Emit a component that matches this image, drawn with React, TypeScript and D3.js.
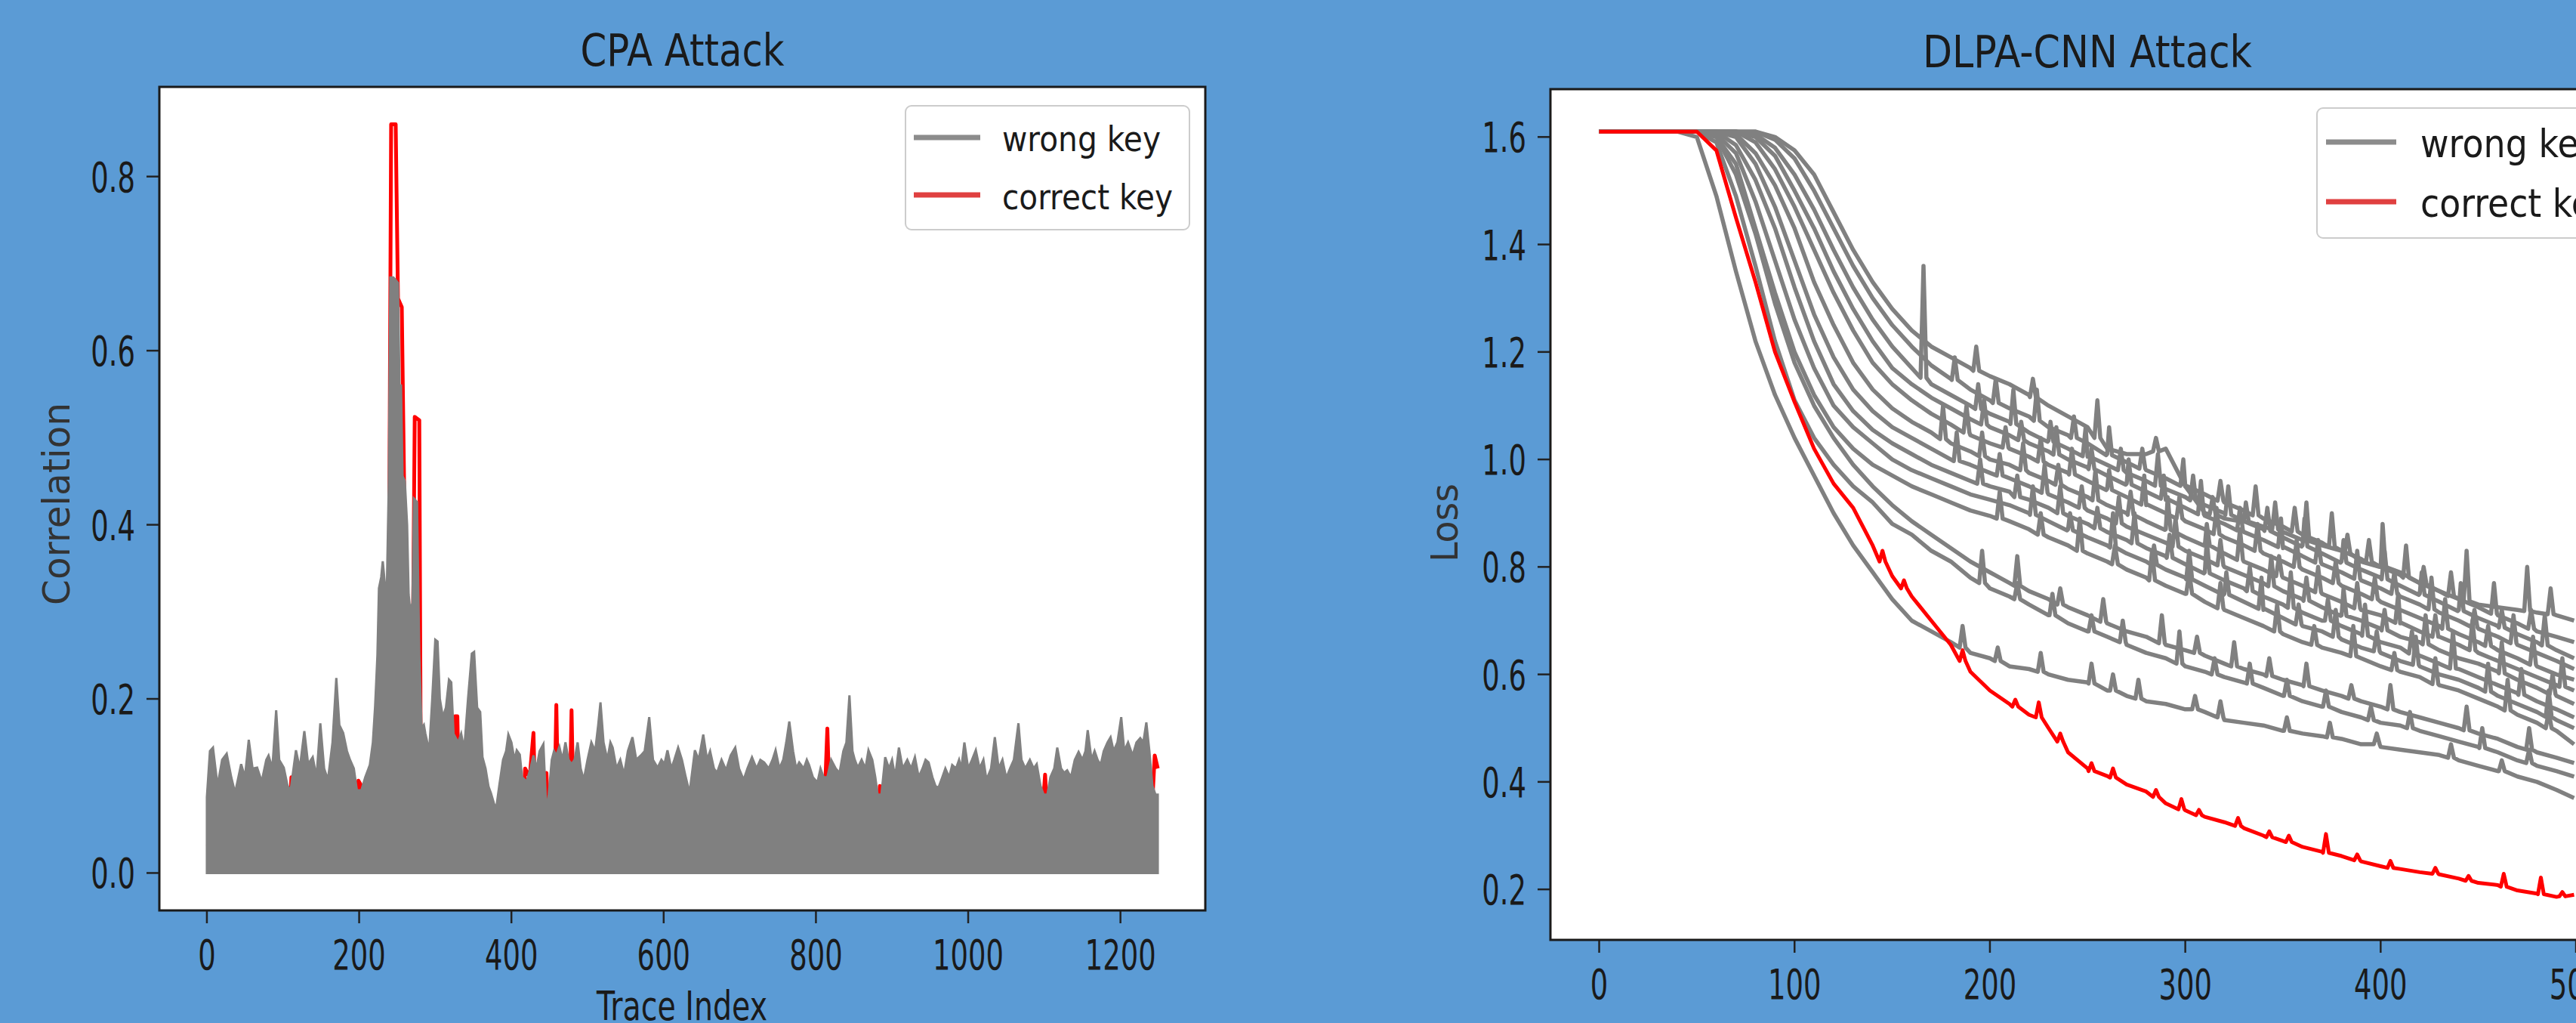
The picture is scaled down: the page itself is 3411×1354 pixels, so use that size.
import React from "react";
import * as d3 from "d3";

const W = 3411;
const H = 1354;
const BG = "#5b9bd5";
const GRAY = "#808080";
const RED = "#ff0000";
const INK = "#1a1a1a";
const FONT = "'DejaVu Sans', 'Liberation Sans', sans-serif";

// ---------- CPA attack (left) ----------
// upper edge of the wrong-key band: [trace index, correlation]
const cpaWrongTop: [number, number][] = [
  [0, 0.087], [4, 0.14], [8, 0.144], [14, 0.1], [20, 0.13], [26, 0.137], [32, 0.11], [37, 0.092],
  [45, 0.125], [50, 0.11], [55, 0.153], [60, 0.12], [66, 0.121], [72, 0.105], [78, 0.13], [81, 0.135],
  [86, 0.12], [91, 0.187], [95, 0.13], [101, 0.121], [106, 0.1], [110, 0.095], [117, 0.141], [122, 0.12],
  [128, 0.163], [133, 0.125], [139, 0.133], [144, 0.11], [149, 0.172], [154, 0.12], [159, 0.107], [165, 0.15],
  [170, 0.224], [174, 0.17], [179, 0.161], [184, 0.14], [188, 0.13], [193, 0.12], [197, 0.095], [203, 0.095],
  [208, 0.11], [214, 0.124], [218, 0.15], [221, 0.192], [224, 0.25], [226, 0.327], [229, 0.34], [231, 0.358],
  [234, 0.33], [236, 0.308], [239, 0.45], [241, 0.684], [245, 0.684], [249, 0.68], [251, 0.678], [253, 0.56],
  [255, 0.56], [257, 0.456], [260, 0.45], [263, 0.4], [265, 0.32], [267, 0.302], [270, 0.31], [272, 0.43],
  [276, 0.426], [279, 0.25], [282, 0.166], [285, 0.17], [287, 0.16], [292, 0.14], [296, 0.2], [300, 0.268],
  [303, 0.266], [306, 0.2], [310, 0.179], [314, 0.19], [318, 0.222], [321, 0.219], [324, 0.16], [330, 0.15],
  [334, 0.16], [338, 0.142], [343, 0.2], [348, 0.252], [351, 0.254], [355, 0.19], [359, 0.185], [362, 0.133],
  [366, 0.12], [370, 0.099], [373, 0.092], [377, 0.08], [380, 0.074], [384, 0.1], [389, 0.13], [393, 0.14],
  [396, 0.159], [400, 0.15], [404, 0.13], [407, 0.141], [411, 0.136], [414, 0.11], [420, 0.105], [425, 0.12],
  [429, 0.135], [433, 0.12], [437, 0.14], [442, 0.148], [446, 0.07], [449, 0.09], [453, 0.13], [456, 0.14],
  [459, 0.135], [463, 0.145], [467, 0.13], [471, 0.15], [475, 0.13], [479, 0.125], [483, 0.13], [487, 0.15],
  [491, 0.12], [495, 0.107], [500, 0.13], [505, 0.15], [510, 0.14], [514, 0.17], [517, 0.196], [521, 0.15],
  [526, 0.13], [530, 0.15], [533, 0.144], [538, 0.12], [543, 0.13], [548, 0.113], [553, 0.14], [559, 0.156],
  [564, 0.13], [570, 0.135], [575, 0.14], [581, 0.179], [586, 0.13], [592, 0.121], [597, 0.13], [601, 0.125],
  [605, 0.141], [610, 0.12], [614, 0.13], [619, 0.144], [624, 0.13], [629, 0.11], [634, 0.092], [641, 0.141],
  [646, 0.13], [652, 0.159], [657, 0.13], [661, 0.14], [666, 0.12], [670, 0.115], [676, 0.13], [682, 0.118],
  [688, 0.135], [694, 0.144], [699, 0.12], [705, 0.107], [710, 0.12], [716, 0.133], [722, 0.12], [727, 0.13],
  [732, 0.127], [738, 0.12], [743, 0.13], [747, 0.141], [752, 0.12], [757, 0.13], [761, 0.15], [765, 0.174],
  [770, 0.14], [774, 0.12], [778, 0.127], [784, 0.12], [788, 0.13], [791, 0.124], [796, 0.11], [802, 0.104],
  [806, 0.12], [810, 0.11], [815, 0.11], [820, 0.13], [826, 0.12], [831, 0.115], [836, 0.14], [840, 0.15],
  [844, 0.204], [848, 0.14], [851, 0.13], [855, 0.121], [860, 0.13], [865, 0.12], [869, 0.141], [874, 0.13],
  [878, 0.11], [881, 0.09], [886, 0.09], [891, 0.133], [896, 0.12], [900, 0.13], [904, 0.11], [909, 0.144],
  [914, 0.12], [920, 0.13], [925, 0.12], [930, 0.133], [935, 0.11], [940, 0.12], [944, 0.13], [948, 0.127],
  [953, 0.11], [957, 0.1], [961, 0.098], [966, 0.11], [970, 0.12], [975, 0.11], [979, 0.124], [984, 0.12],
  [988, 0.13], [991, 0.12], [995, 0.15], [1000, 0.12], [1005, 0.13], [1010, 0.141], [1015, 0.12], [1020, 0.13],
  [1024, 0.107], [1030, 0.12], [1035, 0.156], [1040, 0.12], [1045, 0.13], [1050, 0.109], [1055, 0.12], [1060, 0.13],
  [1066, 0.172], [1070, 0.13], [1075, 0.12], [1081, 0.13], [1086, 0.12], [1090, 0.125], [1095, 0.1], [1099, 0.09],
  [1104, 0.09], [1108, 0.11], [1113, 0.12], [1117, 0.144], [1122, 0.12], [1126, 0.115], [1130, 0.118], [1135, 0.11],
  [1140, 0.13], [1145, 0.139], [1150, 0.13], [1154, 0.14], [1157, 0.164], [1162, 0.13], [1166, 0.14], [1170, 0.13],
  [1174, 0.124], [1178, 0.14], [1183, 0.15], [1187, 0.156], [1191, 0.14], [1196, 0.15], [1201, 0.179], [1205, 0.14],
  [1210, 0.15], [1216, 0.135], [1221, 0.15], [1226, 0.155], [1230, 0.15], [1234, 0.173], [1238, 0.14], [1242, 0.1],
  [1246, 0.09], [1249, 0.09],
];

// correct key trace (mostly hidden under the grey band)
const cpaCorrect: [number, number][] = [
  [0, 0.03], [40, 0.05], [108, 0.05], [111, 0.11], [114, 0.1], [117, 0.05], [195, 0.05], [199, 0.106],
  [203, 0.1], [206, 0.05], [238, 0.1], [242, 0.86], [248, 0.86], [251, 0.66], [256, 0.65], [259, 0.45],
  [262, 0.2], [270, 0.2], [273, 0.524], [279, 0.52], [281, 0.1], [322, 0.05], [326, 0.18], [329, 0.18],
  [332, 0.05], [414, 0.05], [418, 0.12], [424, 0.11], [429, 0.161], [432, 0.05], [444, 0.07], [446, 0.115],
  [449, 0.05], [456, 0.05], [459, 0.193], [462, 0.05], [476, 0.05], [479, 0.187], [482, 0.05], [810, 0.05],
  [815, 0.166], [819, 0.05], [880, 0.05], [884, 0.1], [888, 0.05], [1096, 0.05], [1101, 0.113], [1105, 0.05],
  [1240, 0.05], [1245, 0.135], [1249, 0.12],
];

const cpaXTicks = [0, 200, 400, 600, 800, 1000, 1200];
const cpaYTicks = [0, 0.2, 0.4, 0.6, 0.8];

// ---------- DLPA-CNN attack (right) ----------
const lossEpochs = [
  0, 10, 20, 30, 40, 50, 60, 70, 80, 90, 100, 110, 120, 130, 140, 150, 160, 170, 180, 190,
  200, 210, 220, 230, 240, 250, 260, 270, 280, 290, 300, 310, 320, 330, 340, 350, 360, 370, 380, 390,
  400, 410, 420, 430, 440, 450, 460, 470, 480, 490, 499,
];

const wrongLoss: number[][] = [
  [1.61, 1.61, 1.61, 1.61, 1.61, 1.6, 1.49, 1.35, 1.22, 1.12, 1.04, 0.97, 0.9, 0.84, 0.79, 0.74, 0.7, 0.68, 0.66, 0.64,
    0.63, 0.615, 0.61, 0.6, 0.59, 0.585, 0.57, 0.56, 0.55, 0.545, 0.535, 0.53, 0.515, 0.51, 0.505, 0.495, 0.49, 0.485, 0.48, 0.47,
    0.465, 0.46, 0.455, 0.45, 0.44, 0.43, 0.42, 0.41, 0.4, 0.385, 0.37],
  [1.61, 1.61, 1.61, 1.61, 1.61, 1.61, 1.59, 1.49, 1.36, 1.22, 1.11, 1.04, 0.99, 0.95, 0.92, 0.88, 0.86, 0.83, 0.81, 0.78,
    0.76, 0.745, 0.73, 0.71, 0.695, 0.68, 0.67, 0.655, 0.64, 0.63, 0.615, 0.605, 0.595, 0.585, 0.575, 0.56, 0.55, 0.54, 0.53, 0.52,
    0.51, 0.505, 0.495, 0.485, 0.475, 0.465, 0.455, 0.44, 0.43, 0.42, 0.41],
  [1.61, 1.61, 1.61, 1.61, 1.61, 1.61, 1.6, 1.53, 1.42, 1.29, 1.18, 1.1, 1.04, 0.99, 0.95, 0.915, 0.885, 0.86, 0.835, 0.81,
    0.79, 0.77, 0.755, 0.74, 0.725, 0.71, 0.695, 0.68, 0.67, 0.655, 0.645, 0.635, 0.62, 0.61, 0.6, 0.59, 0.58, 0.57, 0.56, 0.55,
    0.54, 0.53, 0.52, 0.51, 0.5, 0.49, 0.48, 0.465, 0.455, 0.445, 0.435],
  [1.61, 1.61, 1.61, 1.61, 1.61, 1.61, 1.6, 1.55, 1.43, 1.31, 1.2, 1.12, 1.06, 1.02, 0.99, 0.97, 0.95, 0.935, 0.92, 0.905,
    0.895, 0.885, 0.87, 0.855, 0.84, 0.825, 0.81, 0.795, 0.78, 0.765, 0.75, 0.735, 0.72, 0.705, 0.69, 0.675, 0.66, 0.65, 0.64, 0.63,
    0.615, 0.605, 0.595, 0.58, 0.57, 0.555, 0.54, 0.525, 0.51, 0.495, 0.47],
  [1.61, 1.61, 1.61, 1.61, 1.61, 1.61, 1.605, 1.57, 1.48, 1.37, 1.26, 1.17, 1.1, 1.06, 1.03, 1.0, 0.98, 0.965, 0.95, 0.935,
    0.925, 0.915, 0.9, 0.885, 0.87, 0.855, 0.84, 0.825, 0.81, 0.795, 0.78, 0.765, 0.75, 0.735, 0.72, 0.705, 0.69, 0.68, 0.665, 0.65,
    0.64, 0.625, 0.615, 0.6, 0.59, 0.575, 0.56, 0.545, 0.53, 0.515, 0.5],
  [1.61, 1.61, 1.61, 1.61, 1.61, 1.61, 1.61, 1.585, 1.52, 1.43, 1.32, 1.22, 1.14, 1.09, 1.055, 1.03, 1.01, 0.99, 0.975, 0.96,
    0.95, 0.94, 0.925, 0.91, 0.895, 0.88, 0.865, 0.85, 0.835, 0.82, 0.805, 0.79, 0.775, 0.76, 0.745, 0.73, 0.715, 0.7, 0.69, 0.675,
    0.66, 0.65, 0.635, 0.62, 0.61, 0.595, 0.58, 0.565, 0.55, 0.535, 0.52],
  [1.61, 1.61, 1.61, 1.61, 1.61, 1.61, 1.61, 1.6, 1.55, 1.47, 1.37, 1.27, 1.19, 1.13, 1.09, 1.06, 1.04, 1.02, 1.0, 0.99,
    0.975, 0.965, 0.95, 0.935, 0.92, 0.905, 0.89, 0.875, 0.86, 0.845, 0.83, 0.815, 0.8, 0.785, 0.77, 0.755, 0.74, 0.725, 0.71, 0.7,
    0.685, 0.67, 0.66, 0.645, 0.63, 0.62, 0.605, 0.59, 0.575, 0.56, 0.545],
  [1.61, 1.61, 1.61, 1.61, 1.61, 1.61, 1.61, 1.605, 1.57, 1.51, 1.43, 1.33, 1.25, 1.18, 1.13, 1.095, 1.07, 1.05, 1.03, 1.015,
    1.0, 0.99, 0.975, 0.96, 0.945, 0.93, 0.915, 0.9, 0.885, 0.87, 0.855, 0.84, 0.825, 0.81, 0.795, 0.78, 0.765, 0.75, 0.735, 0.72,
    0.71, 0.695, 0.68, 0.67, 0.655, 0.64, 0.625, 0.61, 0.595, 0.58, 0.57],
  [1.61, 1.61, 1.61, 1.61, 1.61, 1.61, 1.61, 1.61, 1.59, 1.54, 1.47, 1.39, 1.31, 1.24, 1.18, 1.14, 1.11, 1.085, 1.065, 1.045,
    1.03, 1.02, 1.005, 0.99, 0.975, 0.96, 0.945, 0.93, 0.915, 0.9, 0.885, 0.87, 0.855, 0.84, 0.825, 0.81, 0.795, 0.78, 0.765, 0.75,
    0.735, 0.72, 0.705, 0.69, 0.675, 0.66, 0.645, 0.63, 0.615, 0.6, 0.59],
  [1.61, 1.61, 1.61, 1.61, 1.61, 1.61, 1.61, 1.61, 1.6, 1.565, 1.5, 1.43, 1.35, 1.28, 1.22, 1.17, 1.14, 1.115, 1.095, 1.075,
    1.06, 1.045, 1.03, 1.015, 1.0, 0.985, 0.97, 0.955, 0.94, 0.925, 0.91, 0.895, 0.88, 0.865, 0.85, 0.835, 0.82, 0.805, 0.79, 0.775,
    0.76, 0.745, 0.73, 0.715, 0.7, 0.685, 0.67, 0.655, 0.64, 0.625, 0.61],
  [1.61, 1.61, 1.61, 1.61, 1.61, 1.61, 1.61, 1.61, 1.605, 1.58, 1.53, 1.465, 1.39, 1.32, 1.26, 1.21, 1.17, 1.14, 1.12, 1.1,
    1.085, 1.07, 1.05, 1.035, 1.02, 1.005, 0.99, 0.975, 0.96, 0.945, 0.93, 0.915, 0.9, 0.885, 0.87, 0.855, 0.84, 0.825, 0.81, 0.795,
    0.78, 0.765, 0.75, 0.735, 0.72, 0.705, 0.69, 0.675, 0.66, 0.645, 0.63],
  [1.61, 1.61, 1.61, 1.61, 1.61, 1.61, 1.61, 1.61, 1.61, 1.595, 1.56, 1.5, 1.43, 1.36, 1.3, 1.25, 1.21, 1.175, 1.15, 1.13,
    1.11, 1.095, 1.08, 1.06, 1.045, 1.03, 1.01, 0.995, 0.98, 0.965, 0.95, 0.935, 0.92, 0.905, 0.89, 0.875, 0.86, 0.845, 0.83, 0.815,
    0.8, 0.785, 0.77, 0.755, 0.74, 0.725, 0.71, 0.695, 0.68, 0.67, 0.66],
  [1.61, 1.61, 1.61, 1.61, 1.61, 1.61, 1.61, 1.61, 1.61, 1.6, 1.575, 1.53, 1.46, 1.39, 1.33, 1.28, 1.24, 1.21, 1.19, 1.17,
    1.155, 1.14, 1.12, 1.1, 1.08, 1.06, 1.02, 1.01, 1.01, 1.02, 0.95, 0.9, 0.89, 0.885, 0.875, 0.865, 0.85, 0.84, 0.83, 0.81,
    0.8, 0.79, 0.77, 0.755, 0.74, 0.73, 0.725, 0.72, 0.715, 0.71, 0.7],
];

// narrow spikes on the wrong-key curves: [curve, epoch, base loss, peak loss]
const wrongSpikes: [number, number, number, number][] = [
  [0, 186, 0.65, 0.69], [0, 204, 0.625, 0.65], [0, 226, 0.605, 0.64], [0, 252, 0.583, 0.62], [0, 263, 0.57, 0.6],
  [0, 276, 0.555, 0.59], [0, 305, 0.535, 0.56], [0, 318, 0.52, 0.55], [0, 352, 0.495, 0.52], [0, 374, 0.483, 0.51],
  [0, 398, 0.47, 0.49], [0, 436, 0.445, 0.47], [0, 462, 0.42, 0.44],
  [1, 196, 0.77, 0.83], [1, 214, 0.74, 0.77], [1, 232, 0.71, 0.75], [1, 252, 0.68, 0.71], [1, 268, 0.66, 0.7],
  [1, 297, 0.62, 0.68], [1, 315, 0.6, 0.63], [1, 333, 0.583, 0.62], [1, 352, 0.56, 0.59], [1, 372, 0.54, 0.57],
  [1, 395, 0.515, 0.54], [1, 415, 0.5, 0.53], [1, 452, 0.463, 0.5], [1, 476, 0.435, 0.46],
  [2, 214, 0.765, 0.82], [2, 236, 0.73, 0.76], [2, 258, 0.698, 0.74], [2, 288, 0.658, 0.71], [2, 306, 0.64, 0.67],
  [2, 325, 0.615, 0.66], [2, 343, 0.597, 0.63], [2, 362, 0.578, 0.62], [2, 385, 0.555, 0.58], [2, 405, 0.535, 0.58],
  [2, 444, 0.496, 0.54], [2, 476, 0.46, 0.5],
  [3, 205, 0.89, 0.94], [3, 226, 0.86, 0.9], [3, 246, 0.83, 0.89], [3, 264, 0.805, 0.84], [3, 283, 0.775, 0.83],
  [3, 302, 0.75, 0.79], [3, 318, 0.723, 0.77], [3, 347, 0.68, 0.73], [3, 366, 0.655, 0.69], [3, 386, 0.634, 0.69],
  [3, 407, 0.608, 0.64], [3, 428, 0.582, 0.63], [3, 465, 0.533, 0.59], [3, 486, 0.5, 0.53],
  [4, 222, 0.897, 0.95], [4, 241, 0.868, 0.9], [4, 263, 0.836, 0.9], [4, 284, 0.804, 0.84], [4, 302, 0.777, 0.83],
  [4, 321, 0.748, 0.79], [4, 339, 0.722, 0.78], [4, 358, 0.693, 0.73], [4, 377, 0.67, 0.72], [4, 398, 0.643, 0.68],
  [4, 418, 0.618, 0.67], [4, 455, 0.568, 0.62], [4, 486, 0.521, 0.57],
  [5, 195, 0.955, 1.0], [5, 214, 0.93, 0.97], [5, 236, 0.9, 0.95], [5, 255, 0.872, 0.91], [5, 274, 0.844, 0.9],
  [5, 292, 0.817, 0.86], [5, 311, 0.788, 0.85], [5, 333, 0.755, 0.8], [5, 354, 0.724, 0.79], [5, 373, 0.7, 0.74],
  [5, 392, 0.672, 0.73], [5, 416, 0.639, 0.68], [5, 437, 0.611, 0.68], [5, 472, 0.562, 0.61],
  [6, 183, 0.997, 1.05], [6, 205, 0.97, 1.01], [6, 228, 0.938, 0.99], [6, 247, 0.91, 0.95], [6, 266, 0.881, 0.93],
  [6, 295, 0.838, 0.89], [6, 318, 0.803, 0.85], [6, 344, 0.764, 0.82], [6, 362, 0.737, 0.78], [6, 381, 0.709, 0.76],
  [6, 402, 0.682, 0.72], [6, 423, 0.656, 0.71], [6, 462, 0.602, 0.66], [6, 488, 0.563, 0.6],
  [7, 176, 1.038, 1.1], [7, 196, 1.006, 1.05], [7, 217, 0.98, 1.03], [7, 235, 0.953, 0.99], [7, 254, 0.924, 0.98],
  [7, 272, 0.897, 0.94], [7, 291, 0.869, 0.93], [7, 311, 0.84, 0.88], [7, 328, 0.813, 0.87], [7, 348, 0.783, 0.82],
  [7, 368, 0.753, 0.8], [7, 388, 0.723, 0.77], [7, 409, 0.696, 0.75], [7, 428, 0.67, 0.71], [7, 447, 0.645, 0.7],
  [7, 493, 0.577, 0.63],
  [8, 188, 1.05, 1.1], [8, 208, 1.022, 1.06], [8, 226, 0.996, 1.04], [8, 242, 0.972, 1.02], [8, 261, 0.943, 0.98],
  [8, 279, 0.916, 0.97], [8, 297, 0.89, 0.93], [8, 316, 0.861, 0.91], [8, 337, 0.83, 0.88], [8, 357, 0.8, 0.85],
  [8, 377, 0.77, 0.81], [8, 397, 0.74, 0.78], [8, 433, 0.685, 0.74], [8, 455, 0.653, 0.69], [8, 478, 0.618, 0.67],
  [9, 197, 1.065, 1.11], [9, 216, 1.036, 1.07], [9, 234, 1.009, 1.06], [9, 252, 0.982, 1.02], [9, 271, 0.953, 1.0],
  [9, 289, 0.927, 0.97], [9, 308, 0.898, 0.96], [9, 328, 0.868, 0.91], [9, 349, 0.837, 0.89], [9, 368, 0.808, 0.85],
  [9, 388, 0.778, 0.83], [9, 407, 0.75, 0.79], [9, 426, 0.721, 0.78], [9, 448, 0.688, 0.72], [9, 468, 0.658, 0.71],
  [10, 166, 1.152, 1.36], [10, 194, 1.094, 1.14], [10, 212, 1.066, 1.13], [10, 231, 1.033, 1.07], [10, 249, 1.006, 1.06],
  [10, 267, 0.98, 1.02], [10, 286, 0.951, 1.01], [10, 304, 0.924, 0.97], [10, 322, 0.897, 0.95], [10, 342, 0.867, 0.91],
  [10, 361, 0.838, 0.89], [10, 381, 0.808, 0.85], [10, 402, 0.777, 0.83], [10, 421, 0.748, 0.79], [10, 441, 0.718, 0.77],
  [10, 462, 0.687, 0.72], [10, 484, 0.654, 0.71],
  [11, 182, 1.148, 1.19], [11, 203, 1.105, 1.15], [11, 224, 1.072, 1.13], [11, 243, 1.04, 1.08], [11, 261, 1.008, 1.06],
  [11, 278, 0.983, 1.02], [11, 299, 0.951, 1.0], [11, 318, 0.923, 0.96], [11, 336, 0.896, 0.95], [11, 356, 0.866, 0.91],
  [11, 375, 0.837, 0.9], [11, 394, 0.809, 0.85], [11, 413, 0.78, 0.84], [11, 436, 0.746, 0.79], [11, 458, 0.713, 0.77],
  [11, 477, 0.685, 0.72],
  [12, 193, 1.165, 1.21], [12, 222, 1.116, 1.15], [12, 255, 1.04, 1.11], [12, 285, 1.015, 1.04], [12, 314, 0.898, 0.93],
  [12, 331, 0.884, 0.92], [12, 346, 0.87, 0.92], [12, 362, 0.848, 0.92], [12, 383, 0.825, 0.86], [12, 401, 0.8, 0.88],
  [12, 422, 0.767, 0.8], [12, 444, 0.736, 0.83], [12, 475, 0.718, 0.8], [12, 487, 0.712, 0.76],
];

const correctLoss = [
  1.61, 1.61, 1.61, 1.61, 1.61, 1.61, 1.575, 1.45, 1.33, 1.2, 1.107, 1.02, 0.955, 0.91, 0.84, 0.783, 0.745, 0.7, 0.655, 0.605,
  0.57, 0.545, 0.525, 0.5, 0.455, 0.425, 0.411, 0.395, 0.382, 0.36, 0.347, 0.335, 0.325, 0.314, 0.3, 0.29, 0.279, 0.27, 0.262, 0.252,
  0.243, 0.238, 0.232, 0.228, 0.22, 0.212, 0.208, 0.198, 0.192, 0.186, 0.19,
];

// [epoch, base loss, peak loss]
const correctSpikes: [number, number, number][] = [
  [145, 0.81, 0.83], [156, 0.76, 0.775], [186, 0.625, 0.645], [213, 0.54, 0.553], [225, 0.52, 0.548],
  [236, 0.475, 0.49], [252, 0.42, 0.435], [263, 0.408, 0.425], [285, 0.372, 0.385], [298, 0.349, 0.368],
  [307, 0.338, 0.348], [327, 0.318, 0.333], [343, 0.297, 0.308], [353, 0.288, 0.3], [372, 0.268, 0.303],
  [388, 0.254, 0.265], [405, 0.24, 0.253], [428, 0.229, 0.24], [445, 0.216, 0.225], [463, 0.205, 0.229],
  [482, 0.191, 0.222], [493, 0.187, 0.195],
];

const lossXTicks = [0, 100, 200, 300, 400, 500];
const lossYTicks = [0.2, 0.4, 0.6, 0.8, 1.0, 1.2, 1.4, 1.6];

// ---------- helpers ----------
const fmt1 = d3.format(".1f");

type Box = { left: number; right: number; top: number; bottom: number };

function Frame({ box, xScale, yScale, xTicks, yTicks, xFmt, yFmt }: any) {
  const tick = 17;
  return (
    <g>
      {xTicks.map((t: number) => (
        <g key={"x" + t}>
          <line x1={xScale(t)} x2={xScale(t)} y1={box.bottom} y2={box.bottom + tick} stroke="#222" strokeWidth={2.5} />
          <text
            transform={`translate(${xScale(t)},${box.bottom + 78}) scale(0.66,1)`}
            textAnchor="middle" fontSize={56} fontFamily={FONT} fill={INK}
          >
            {xFmt(t)}
          </text>
        </g>
      ))}
      {yTicks.map((t: number) => (
        <g key={"y" + t}>
          <line x1={box.left - tick} x2={box.left} y1={yScale(t)} y2={yScale(t)} stroke="#222" strokeWidth={2.5} />
          <text
            transform={`translate(${box.left - 32},${yScale(t) + 20}) scale(0.66,1)`}
            textAnchor="end" fontSize={56} fontFamily={FONT} fill={INK}
          >
            {yFmt(t)}
          </text>
        </g>
      ))}
      <rect x={box.left} y={box.top} width={box.right - box.left} height={box.bottom - box.top}
        fill="none" stroke="#1a1a1a" strokeWidth={3} />
    </g>
  );
}

function Legend({ x, y, w, h, lineX0, lineX1, textX, rows, size, lens }: any) {
  return (
    <g>
      <rect x={x} y={y} width={w} height={h} rx={8} fill="#ffffff" fillOpacity={0.85} stroke="#cccccc" strokeWidth={2} />
      {rows.map((r: any, i: number) => (
        <g key={r.label}>
          <line x1={lineX0} x2={lineX1} y1={r.ly} y2={r.ly} stroke={r.color} strokeWidth={7} />
          <text x={textX} y={r.ty} fontSize={size} fontFamily={FONT} fill={INK}
            textLength={lens[i]} lengthAdjust="spacingAndGlyphs">
            {r.label}
          </text>
        </g>
      ))}
    </g>
  );
}

function CpaChart() {
  const box: Box = { left: 211, right: 1596, top: 115, bottom: 1205 };
  const x = d3.scaleLinear().domain([-62.45, 1311.45]).range([box.left, box.right]);
  const y = d3.scaleLinear().domain([-0.043, 0.903]).range([box.bottom, box.top]);

  const band = d3.area<[number, number]>()
    .x((d) => x(d[0]))
    .y0(y(0))
    .y1((d) => y(d[1]));
  const line = d3.line<[number, number]>().x((d) => x(d[0])).y((d) => y(d[1]));

  return (
    <g>
      <rect x={box.left} y={box.top} width={box.right - box.left} height={box.bottom - box.top} fill="#ffffff" />
      <path d={line(cpaCorrect) || ""} fill="none" stroke={RED} strokeWidth={5} strokeLinejoin="round" />
      <path d={band(cpaWrongTop) || ""} fill={GRAY} stroke={GRAY} strokeWidth={3} strokeLinejoin="miter" />
      <Legend
        x={1199} y={140} w={376} h={164} lineX0={1210} lineX1={1298} textX={1327} size={46}
        lens={[210, 226]}
        rows={[
          { label: "wrong key", color: "#8c8c8c", ly: 182, ty: 200 },
          { label: "correct key", color: "#e04040", ly: 258, ty: 277 },
        ]}
      />
      <Frame box={box} xScale={x} yScale={y} xTicks={cpaXTicks} yTicks={cpaYTicks} xFmt={(t: number) => String(t)} yFmt={fmt1} />
      <text x={903.5} y={87} textAnchor="middle" fontSize={58} fontFamily={FONT} fill={INK}
        textLength={270} lengthAdjust="spacingAndGlyphs">CPA Attack</text>
      <text transform="translate(92,667) rotate(-90)" textAnchor="middle" fontSize={50} fontFamily={FONT} fill="#333"
        textLength={268} lengthAdjust="spacingAndGlyphs">Correlation</text>
      <text x={903} y={1350} textAnchor="middle" fontSize={54} fontFamily={FONT} fill={INK}
        textLength={226} lengthAdjust="spacingAndGlyphs">Trace Index</text>
    </g>
  );
}

// grid values plus narrow spikes (each spike: base just before, peak, base just after)
function lossPoints(vals: number[], spikes: [number, number, number][]): [number, number][] {
  const pts: [number, number][] = lossEpochs.map((e, i) => [e, vals[i]]);
  spikes.forEach(([e, base, peak]) => {
    pts.push([e - 1.5, base], [e, peak], [e + 1.5, base]);
  });
  pts.sort((a, b) => a[0] - b[0]);
  return pts;
}

function LossChart() {
  const box: Box = { left: 2053, right: 3473, top: 118, bottom: 1244 };
  const x = d3.scaleLinear().domain([-24.95, 523.95]).range([box.left, box.right]);
  const y = d3.scaleLinear().domain([0.106, 1.689]).range([box.bottom, box.top]);
  const line = d3.line<[number, number]>().x((d) => x(d[0])).y((d) => y(d[1]));

  return (
    <g>
      <rect x={box.left} y={box.top} width={box.right - box.left} height={box.bottom - box.top} fill="#ffffff" />
      {wrongLoss.map((vals, k) => {
        const spikes = wrongSpikes
          .filter((s) => s[0] === k)
          .map((s) => [s[1], s[2], s[3]] as [number, number, number]);
        return (
          <path key={k} d={line(lossPoints(vals, spikes)) || ""} fill="none" stroke={GRAY}
            strokeWidth={5.5} strokeLinejoin="round" />
        );
      })}
      <path d={line(lossPoints(correctLoss, correctSpikes)) || ""} fill="none" stroke={RED} strokeWidth={5} strokeLinejoin="round" />
      <Legend
        x={3068} y={143} w={410} h={172} lineX0={3080} lineX1={3173} textX={3205} size={52}
        lens={[237, 255]}
        rows={[
          { label: "wrong key", color: "#8c8c8c", ly: 188, ty: 208 },
          { label: "correct key", color: "#e04040", ly: 267, ty: 287 },
        ]}
      />
      <Frame box={box} xScale={x} yScale={y} xTicks={lossXTicks} yTicks={lossYTicks} xFmt={(t: number) => String(t)} yFmt={fmt1} />
      <text x={2764} y={89} textAnchor="middle" fontSize={58} fontFamily={FONT} fill={INK}
        textLength={436} lengthAdjust="spacingAndGlyphs">DLPA-CNN Attack</text>
      <text transform="translate(1930,692) rotate(-90)" textAnchor="middle" fontSize={50} fontFamily={FONT} fill="#333"
        textLength={104} lengthAdjust="spacingAndGlyphs">Loss</text>
    </g>
  );
}

export default function App() {
  return (
    <svg width={W} height={H} style={{ position: "absolute", left: 0, top: 0, display: "block" }}>
      <rect x={0} y={0} width={W} height={H} fill={BG} />
      <CpaChart />
      <LossChart />
    </svg>
  );
}
